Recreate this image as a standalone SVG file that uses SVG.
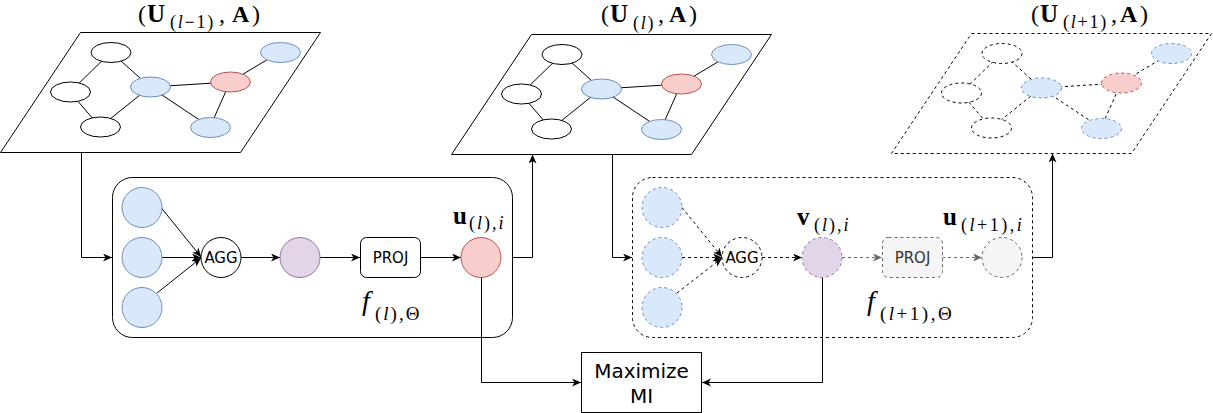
<svg xmlns="http://www.w3.org/2000/svg" width="1213" height="413" viewBox="0 0 1213 413">
<style>
.ln{fill:none;stroke:#000;stroke-width:1}
.dl{fill:none;stroke:#000;stroke-width:1;stroke-dasharray:3 3}
.gl{fill:none;stroke:#666;stroke-width:1;stroke-dasharray:3 3}
.wh{fill:#fff;stroke:#000;stroke-width:1}
.bl{fill:#dae8fc;stroke:#6c8ebf;stroke-width:1}
.rd{fill:#f8cecc;stroke:#b85450;stroke-width:1}
.pu{fill:#e1d5e7;stroke:#9673a6;stroke-width:1}
.gy{fill:#f5f5f5;stroke:#666;stroke-width:1}
.da{stroke-dasharray:3 3}
.sans{font-family:"DejaVu Sans",Verdana,sans-serif;fill:#000}
.m{font-family:"Liberation Serif","DejaVu Serif",serif;fill:#000}
.b{font-weight:bold}
.i{font-style:italic}
</style>
<defs>
<marker id="ar" markerUnits="userSpaceOnUse" markerWidth="10" markerHeight="9" refX="9" refY="4" orient="auto"><path d="M0,0 L9,4 L0,8 L2.5,4 Z" fill="#000"/></marker>
<marker id="arg" markerUnits="userSpaceOnUse" markerWidth="10" markerHeight="9" refX="9" refY="4" orient="auto"><path d="M0,0 L9,4 L0,8 L2.5,4 Z" fill="#666"/></marker>
</defs>
<rect width="1213" height="413" fill="#fff"/>

<!-- Graph 1 -->
<g id="graph1">
<polygon class="wh" points="80.5,32.5 320.5,32.5 240.5,152.5 0.5,152.5"/>
<g class="ln">
<line x1="111" y1="52" x2="70" y2="92"/><line x1="111" y1="52" x2="150" y2="87"/>
<line x1="70" y1="92" x2="100" y2="127"/><line x1="100" y1="127" x2="150" y2="87"/>
<line x1="150" y1="87" x2="230" y2="82"/><line x1="150" y1="87" x2="210" y2="127"/>
<line x1="230" y1="82" x2="210" y2="127"/><line x1="230" y1="82" x2="280" y2="52"/>
</g>
<ellipse class="wh" cx="111" cy="52.5" rx="20" ry="10"/>
<ellipse class="wh" cx="70.5" cy="92" rx="20" ry="10"/>
<ellipse class="wh" cx="100.5" cy="127" rx="20" ry="10"/>
<ellipse class="bl" cx="150.5" cy="87" rx="20" ry="10"/>
<ellipse class="rd" cx="230.5" cy="82" rx="20" ry="10"/>
<ellipse class="bl" cx="280.5" cy="52.5" rx="20" ry="10"/>
<ellipse class="bl" cx="210.5" cy="127.5" rx="20" ry="10"/>
</g>
<text class="m" y="22" font-size="24"><tspan x="138">(</tspan><tspan x="147" class="b" font-size="25">U</tspan><tspan x="170" y="28" font-size="18" letter-spacing="1.8">(<tspan class="i">l</tspan>−1)</tspan><tspan x="219" y="22">,</tspan><tspan x="232" y="22" class="b">A</tspan><tspan x="252" y="22">)</tspan></text>

<!-- Graph 2 -->
<g id="graph2" transform="translate(451,2)">
<polygon class="wh" points="80.5,32.5 320.5,32.5 240.5,152.5 0.5,152.5"/>
<g class="ln">
<line x1="111" y1="52" x2="70" y2="92"/><line x1="111" y1="52" x2="150" y2="87"/>
<line x1="70" y1="92" x2="100" y2="127"/><line x1="100" y1="127" x2="150" y2="87"/>
<line x1="150" y1="87" x2="230" y2="82"/><line x1="150" y1="87" x2="210" y2="127"/>
<line x1="230" y1="82" x2="210" y2="127"/><line x1="230" y1="82" x2="280" y2="52"/>
</g>
<ellipse class="wh" cx="111" cy="52.5" rx="20" ry="10"/>
<ellipse class="wh" cx="70.5" cy="92" rx="20" ry="10"/>
<ellipse class="wh" cx="100.5" cy="127" rx="20" ry="10"/>
<ellipse class="bl" cx="150.5" cy="87" rx="20" ry="10"/>
<ellipse class="rd" cx="230.5" cy="82" rx="20" ry="10"/>
<ellipse class="bl" cx="280.5" cy="52.5" rx="20" ry="10"/>
<ellipse class="bl" cx="210.5" cy="127.5" rx="20" ry="10"/>
</g>
<text class="m" y="22" font-size="24"><tspan x="601">(</tspan><tspan x="610" class="b" font-size="25">U</tspan><tspan x="633" y="29" font-size="18" letter-spacing="1.8">(<tspan class="i">l</tspan>)</tspan><tspan x="658" y="22">,</tspan><tspan x="669" y="22" class="b">A</tspan><tspan x="689" y="22">)</tspan></text>

<!-- Graph 3 -->
<g id="graph3" transform="translate(891,1)">
<polygon class="wh da" points="80.5,32.5 320.5,32.5 240.5,152.5 0.5,152.5"/>
<g class="dl">
<line x1="111" y1="52" x2="70" y2="92"/><line x1="111" y1="52" x2="150" y2="87"/>
<line x1="70" y1="92" x2="100" y2="127"/><line x1="100" y1="127" x2="150" y2="87"/>
<line x1="150" y1="87" x2="230" y2="82"/><line x1="150" y1="87" x2="210" y2="127"/>
<line x1="230" y1="82" x2="210" y2="127"/><line x1="230" y1="82" x2="280" y2="52"/>
</g>
<ellipse class="wh da" cx="111" cy="52.5" rx="20" ry="10"/>
<ellipse class="wh da" cx="70.5" cy="92" rx="20" ry="10"/>
<ellipse class="wh da" cx="100.5" cy="127" rx="20" ry="10"/>
<ellipse class="bl da" cx="150.5" cy="87" rx="20" ry="10"/>
<ellipse class="rd da" cx="230.5" cy="82" rx="20" ry="10"/>
<ellipse class="bl da" cx="280.5" cy="52.5" rx="20" ry="10"/>
<ellipse class="bl da" cx="210.5" cy="127.5" rx="20" ry="10"/>
</g>
<text class="m" y="22" font-size="24"><tspan x="1031">(</tspan><tspan x="1040" class="b" font-size="25">U</tspan><tspan x="1063" y="28" font-size="18" letter-spacing="1.8">(<tspan class="i">l</tspan>+1)</tspan><tspan x="1111" y="22">,</tspan><tspan x="1120" y="22" class="b">A</tspan><tspan x="1140" y="22">)</tspan></text>

<!-- Box 1 -->
<g id="box1"><rect class="wh" x="112.5" y="177.5" width="400" height="160" rx="20"/></g>
<!-- Box 2 -->
<g id="box2"><rect class="wh da" x="632.5" y="177.5" width="400" height="160" rx="20"/></g>

<!-- Connectors -->
<g id="connectors">
<polyline class="ln" points="81.5,152 81.5,257.5 112,257.5" marker-end="url(#ar)"/>
<line class="ln" x1="161" y1="207.5" x2="201" y2="257" marker-end="url(#ar)"/>
<line class="ln" x1="162" y1="257.5" x2="201" y2="257.5" marker-end="url(#ar)"/>
<line class="ln" x1="157" y1="293" x2="201" y2="258" marker-end="url(#ar)"/>
<line class="ln" x1="241" y1="257.5" x2="280" y2="257.5" marker-end="url(#ar)"/>
<line class="ln" x1="320" y1="257.5" x2="360" y2="257.5" marker-end="url(#ar)"/>
<line class="ln" x1="420" y1="257.5" x2="461" y2="257.5" marker-end="url(#ar)"/>
<polyline class="ln" points="512,257.5 532.5,257.5 532.5,154.5" marker-end="url(#ar)"/>
<polyline class="ln" points="612.5,154.5 612.5,257.5 632,257.5" marker-end="url(#ar)"/>
<line class="dl" x1="682" y1="207.5" x2="722" y2="257" marker-end="url(#ar)"/>
<line class="dl" x1="682" y1="257.5" x2="722" y2="257.5" marker-end="url(#ar)"/>
<line class="dl" x1="677" y1="293" x2="722" y2="258" marker-end="url(#ar)"/>
<line class="dl" x1="762" y1="257.5" x2="802" y2="257.5" marker-end="url(#ar)"/>
<line class="gl" x1="842" y1="257.5" x2="882" y2="257.5" marker-end="url(#arg)"/>
<line class="gl" x1="942" y1="257.5" x2="982" y2="257.5" marker-end="url(#arg)"/>
<polyline class="ln" points="1032,257.5 1052.5,257.5 1052.5,153.5" marker-end="url(#ar)"/>
<polyline class="ln" points="481.5,277 481.5,382.5 581,382.5" marker-end="url(#ar)"/>
<polyline class="ln" points="822.5,277 822.5,382.5 702,382.5" marker-end="url(#ar)"/>
</g>

<!-- Box 1 nodes -->
<g id="in1a"><circle class="bl" cx="142" cy="207.5" r="20"/></g>
<g id="in1b"><circle class="bl" cx="142" cy="257.5" r="20"/></g>
<g id="in1c"><circle class="bl" cx="142" cy="307.5" r="20"/></g>
<g id="agg1"><circle class="wh" cx="221" cy="257.5" r="20"/><text class="sans" x="221" y="263" font-size="15" text-anchor="middle">AGG</text></g>
<g id="hid1"><circle class="pu" cx="300" cy="257.5" r="20"/></g>
<g id="proj1"><rect class="wh" x="360.5" y="237.5" width="60" height="40" rx="6"/><text class="sans" x="390.5" y="263" font-size="15" text-anchor="middle">PROJ</text></g>
<g id="out1"><circle class="rd" cx="481" cy="257.5" r="20"/></g>
<text class="m" y="224" font-size="25"><tspan x="453" class="b">u</tspan><tspan x="469" y="229" font-size="18" letter-spacing="2">(<tspan class="i">l</tspan>),<tspan class="i">i</tspan></tspan></text>
<text class="m" y="310" font-size="28"><tspan x="362" class="i">f</tspan><tspan x="375" y="320" font-size="19" letter-spacing="2">(<tspan class="i">l</tspan>),Θ</tspan></text>

<!-- Box 2 nodes -->
<g id="in2a"><circle class="bl da" cx="662" cy="207.5" r="20"/></g>
<g id="in2b"><circle class="bl da" cx="662" cy="257.5" r="20"/></g>
<g id="in2c"><circle class="bl da" cx="662" cy="307.5" r="20"/></g>
<g id="agg2"><circle class="wh da" cx="742" cy="257.5" r="20"/><text class="sans" x="742" y="263" font-size="15" text-anchor="middle">AGG</text></g>
<g id="hid2"><circle class="pu da" cx="822" cy="257.5" r="20"/></g>
<g id="proj2"><rect class="gy da" x="882.5" y="237.5" width="60" height="40" rx="6"/><text class="sans" x="912.5" y="263" font-size="15" text-anchor="middle" style="fill:#333">PROJ</text></g>
<g id="out2"><circle class="gy da" cx="1002" cy="257.5" r="20"/></g>
<text class="m" y="225" font-size="25"><tspan x="797" class="b">v</tspan><tspan x="814" y="231" font-size="18" letter-spacing="2">(<tspan class="i">l</tspan>),<tspan class="i">i</tspan></tspan></text>
<text class="m" y="225" font-size="25"><tspan x="943" class="b">u</tspan><tspan x="961" y="231" font-size="18" letter-spacing="2.5">(<tspan class="i">l</tspan>+1),<tspan class="i">i</tspan></tspan></text>
<text class="m" y="310" font-size="28"><tspan x="867" class="i">f</tspan><tspan x="880" y="320" font-size="19" letter-spacing="2.5">(<tspan class="i">l</tspan>+1),Θ</tspan></text>

<!-- Maximize MI -->
<g id="mi"><rect class="wh" x="581.5" y="352.5" width="120" height="60"/><text class="sans" x="641.5" y="378" font-size="20" text-anchor="middle">Maximize</text><text class="sans" x="641.5" y="403" font-size="20" text-anchor="middle">MI</text></g>
</svg>
